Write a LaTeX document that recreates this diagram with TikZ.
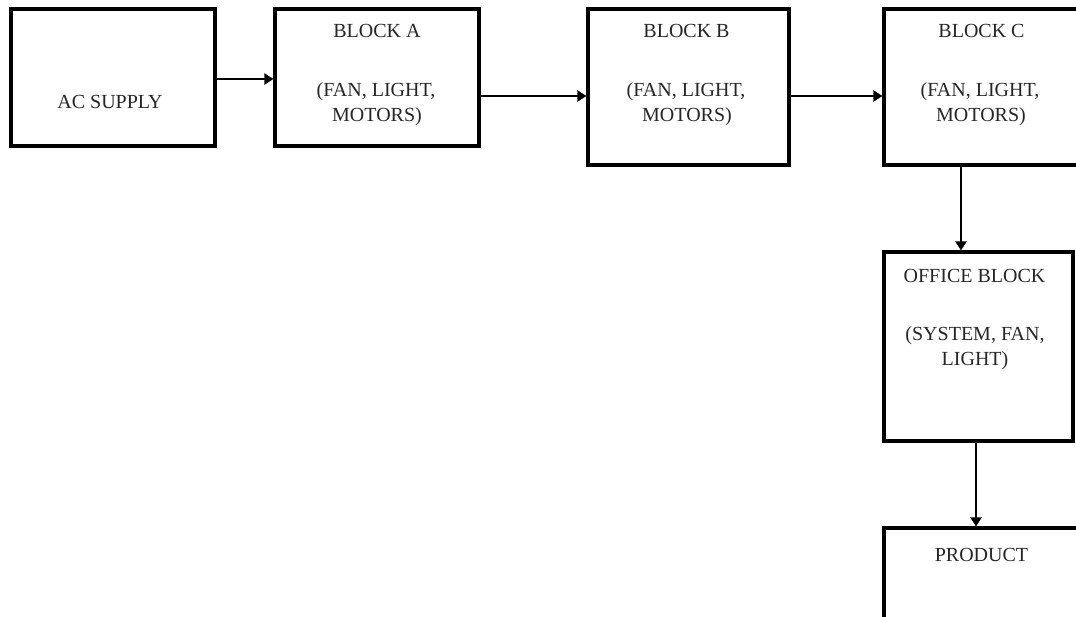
\documentclass[tikz,border=0pt]{standalone}
\usepackage{fontspec}
\setmainfont{Liberation Serif}
\usetikzlibrary{arrows.meta}
\begin{document}
\begin{tikzpicture}[x=1pt,y=-1pt,
  box/.style={draw=black,line width=3.2pt,rectangle,inner sep=0pt},
  txt/.style={anchor=base,inner sep=0pt,font=\fontsize{20}{25}\selectfont,text=black!85},
  arr/.style={draw=black,line width=2.6pt,-{Triangle[length=9pt,width=11pt]}}]
\useasboundingbox (0,0) rectangle (1076,616);
\clip (0,0) rectangle (1076,616);
% boxes
\node[box,minimum width=204pt,minimum height=137pt] (ac) at (113,77.5) {};
\node[box,minimum width=204pt,minimum height=137pt] (a) at (377,77.5) {};
\node[box,minimum width=201pt,minimum height=156pt] (b) at (688.5,87) {};
\node[box,minimum width=196pt,minimum height=156pt] (c) at (982,87) {};
\node[box,minimum width=189pt,minimum height=189pt] (off) at (978.5,346.5) {};
\node[box,minimum width=196pt,minimum height=172pt] (prod) at (982,614) {};
% texts
\node[txt] (acT) at (110,108) {AC SUPPLY};
\node[txt] (aT1) at (377,37) {BLOCK A};
\node[txt] (aT2) at (376,96.5) {(FAN, LIGHT,};
\node[txt] (aT3) at (377,121.5) {MOTORS)};
\node[txt] (bT1) at (686.5,37) {BLOCK B};
\node[txt] (bT2) at (686,96.5) {(FAN, LIGHT,};
\node[txt] (bT3) at (687,121.5) {MOTORS)};
\node[txt] (cT1) at (981.5,37) {BLOCK C};
\node[txt] (cT2) at (980,96.5) {(FAN, LIGHT,};
\node[txt] (cT3) at (981,121.5) {MOTORS)};
\node[txt] (oT1) at (974.5,282) {OFFICE BLOCK};
\node[txt] (oT2) at (975,340) {(SYSTEM, FAN,};
\node[txt] (oT3) at (975,365) {LIGHT)};
\node[txt] (pT) at (981.5,561) {PRODUCT};
% connectors
\draw[arr] ([yshift=-1.5pt]ac.east) -- ([yshift=-1.5pt]a.west);
\draw[arr] ([yshift=-18.5pt]a.east) -- ([yshift=-9pt]b.west);
\draw[arr] ([yshift=-9pt]b.east) -- ([yshift=-9pt]c.west);
\draw[arr] ([xshift=-21pt]c.south) -- ([xshift=-17.5pt]off.north);
\draw[arr] ([xshift=-2.5pt]off.south) -- ([xshift=-6pt]prod.north);
\end{tikzpicture}
\end{document}
